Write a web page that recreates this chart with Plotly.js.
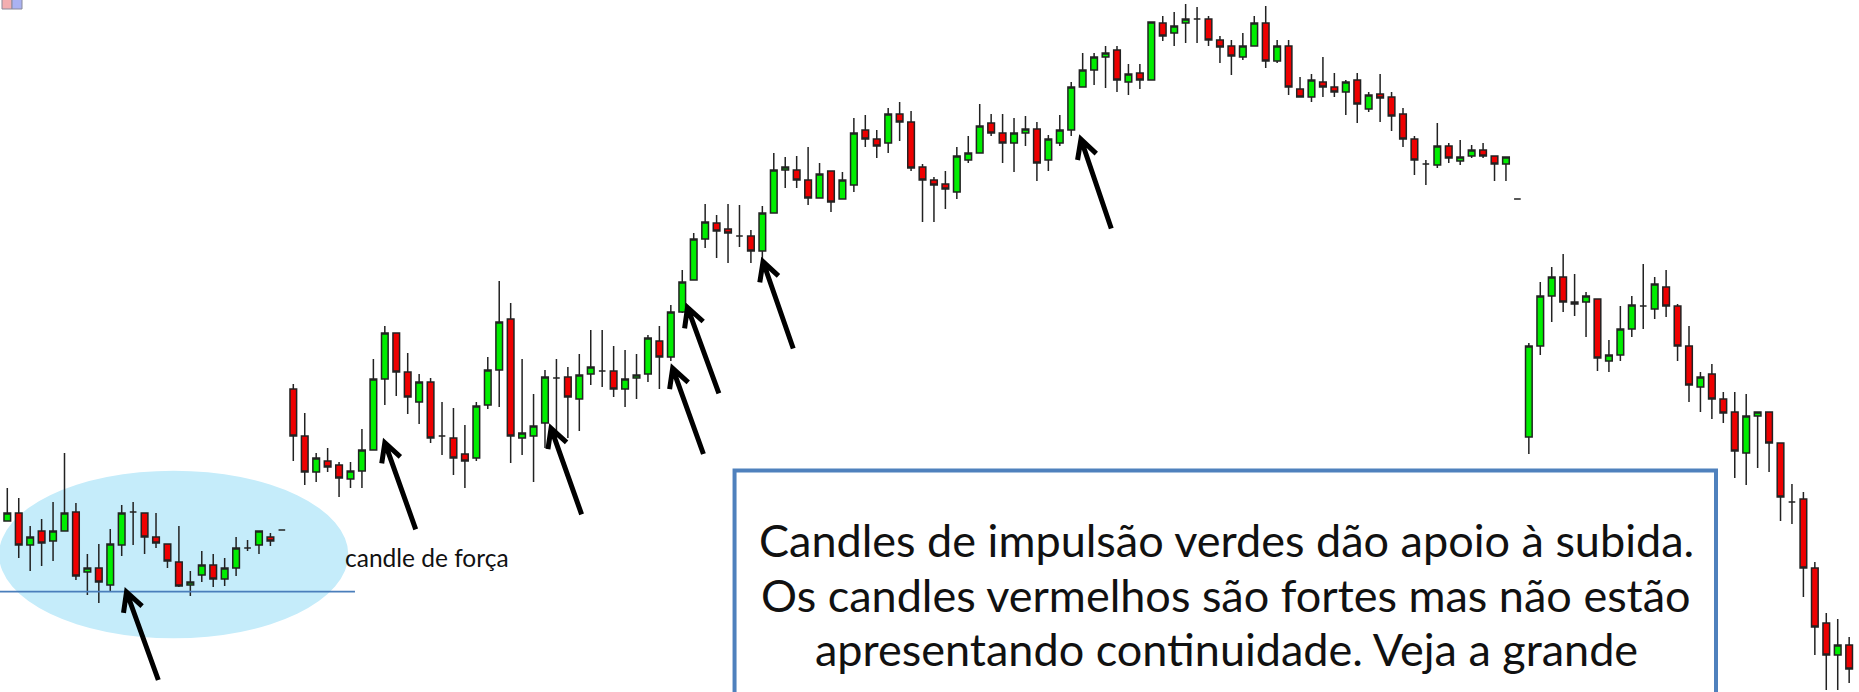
<!DOCTYPE html>
<html><head><meta charset="utf-8">
<script src="https://cdn.plot.ly/plotly-3.0.1.min.js"></script>
<style>html,body{margin:0;padding:0;background:#fff;overflow:hidden}#chart{width:1859px;height:692px}</style>
</head><body><div id="chart"></div>
<script>
// Candle values (price units)
const open = [171,179,147,161,151,161,180,120,124,107,147,180,179,155,148,130,107,117,127,113,124,144,147,155,162,
 303,256,220,231,227,213,221,242,313,359,320,290,310,256,254,238,234,287,322,373,254,256,269,314,315,293,318,321,321,303,314,318,351,335,
 380,412,453,469,463,456,456,441,479,522,522,512,494,521,493,507,562,553,549,578,570,525,512,508,500,532,539,569,559,549,559,563,532,549,562,605,622,635,642,610,619,612,
 669,659,669,673,673,652,646,635,646,669,631,646,603,595,610,605,600,612,583,598,595,578,553,528,527,546,531,536,542,536,528,493,
 255,346,396,415,388,390,393,331,337,363,386,383,405,386,346,305,318,293,280,239,276,280,249,190,193,124,69,37,47];
const high = [204,194,166,173,190,239,189,138,148,163,187,190,179,179,148,166,121,141,138,134,155,152,161,159,162,
 308,279,239,244,230,230,263,333,366,359,339,318,314,290,284,267,290,335,411,389,333,298,322,333,325,338,362,362,346,342,338,357,366,387,
 422,459,488,477,488,487,462,486,539,535,536,545,529,521,520,574,577,562,584,590,581,528,515,521,545,556,588,578,578,574,576,570,557,577,610,639,639,646,646,628,628,670,
 676,680,688,685,676,656,652,659,676,686,652,652,615,618,635,619,612,619,600,618,600,584,556,532,569,549,552,547,549,536,535,493,
 349,410,425,438,418,400,393,352,386,396,428,415,422,388,366,320,328,300,300,298,280,280,249,208,200,130,79,73,55];
const low = [171,134,121,126,131,161,112,97,89,100,136,147,138,144,124,105,96,110,105,106,116,141,138,146,162,
 231,207,210,220,195,204,204,242,287,296,278,268,249,237,217,204,231,283,285,229,237,210,244,254,254,261,307,305,295,285,293,310,303,331,
 379,412,444,434,429,445,429,432,479,504,504,487,494,480,493,500,545,534,539,551,521,470,470,483,493,529,539,556,529,520,546,511,521,546,556,605,607,604,600,597,603,612,
 651,646,649,649,646,629,617,632,646,624,629,597,595,590,595,595,577,569,580,570,561,545,517,507,524,529,527,534,534,511,511,493,
 238,337,370,380,376,355,321,320,331,355,363,373,375,331,290,280,273,269,214,207,224,220,171,168,95,37,2,2,9];
const close = [179,147,155,149,161,179,116,124,110,148,179,180,155,149,131,106,110,127,113,124,144,144,161,151,162,
 256,220,234,225,214,221,242,313,359,320,295,310,254,256,234,231,286,322,370,256,259,266,315,314,295,317,325,321,303,313,317,354,335,380,
 410,453,470,461,459,456,441,479,522,525,512,494,518,490,512,559,553,546,578,570,524,512,507,503,536,539,566,559,549,559,563,529,553,562,605,622,635,639,612,618,612,670,
 656,666,673,673,652,645,636,646,669,631,646,605,595,612,605,600,610,588,597,594,576,553,532,528,546,534,535,542,536,528,535,493,
 346,396,415,390,390,396,334,337,363,387,386,408,386,346,307,315,293,279,241,276,280,249,195,190,124,65,37,47,23];
const bars = open.map((_, k) => k + 1);

const boxLines = [
  'Candles de impulsão verdes dão apoio à subida.',
  'Os candles vermelhos são fortes mas não estão',
  'apresentando continuidade. Veja a grande'
];
const forceLabel = 'candle de força';

// layout helpers
const X_RANGE = [0.362, 162.86];
const Y_RANGE = [0, 692];
const PXX = 1859 / (X_RANGE[1] - X_RANGE[0]);
const arrows = [
  {tail:[14.2,12],   tip:[11.42,100]},
  {tail:[36.7,162.7],tip:[34.0,249.3]},
  {tail:[51.2,177.7],tip:[48.53,263.7]},
  {tail:[61.85,238], tip:[59.16,323.7]},
  {tail:[63.2,298.7],tip:[60.46,384.5]},
  {tail:[69.7,343.5],tip:[67.06,430.3]},
  {tail:[97.5,463.5],tip:[94.85,552.7]}
];
const ARM = 21, ANG = 0.49;
function arrowPath(a){
  const tx=a.tip[0]*PXX, ty=-a.tip[1], sx=a.tail[0]*PXX, sy=-a.tail[1];
  const dx=sx-tx, dy=sy-ty, L=Math.hypot(dx,dy), ux=dx/L, uy=dy/L;
  const arm=(g)=>{const c=Math.cos(g), s=Math.sin(g); return [tx+ARM*(ux*c-uy*s), ty+ARM*(ux*s+uy*c)];};
  const a1=arm(ANG), a2=arm(-ANG);
  const f=(x,y)=>(x/PXX).toFixed(3)+','+(-y).toFixed(2);
  return 'M'+f(sx,sy)+'L'+f(tx,ty)+'M'+f(a1[0],a1[1])+'L'+f(tx,ty)+'L'+f(a2[0],a2[1]);
}

const shapes = [
  {type:'circle', xref:'x', yref:'y', x0:0.275, x1:30.81, y0:53.7, y1:221.3,
   fillcolor:'rgb(197,236,250)', line:{width:0}, layer:'below'},
  {type:'line', xref:'x', yref:'y', x0:0.362, x1:31.39, y0:100.3, y1:100.3,
   line:{color:'#4a7ebb', width:1.8}, layer:'above'},
  {type:'rect', xref:'x', yref:'y', x0:64.57, x1:150.36, y0:-60, y1:221.5,
   fillcolor:'#ffffff', line:{color:'#4f81bd', width:4}, layer:'above'},
  // tiny icon top-left
  {type:'rect', xref:'paper', yref:'paper', x0:2/1859, x1:12/1859, y0:1-9/692, y1:1.01,
   fillcolor:'#f3aeb0', line:{color:'#8a8a9a', width:1}},
  {type:'rect', xref:'paper', yref:'paper', x0:12/1859, x1:22/1859, y0:1-9/692, y1:1.01,
   fillcolor:'#aab2f2', line:{color:'#8a8a9a', width:1}}
];
arrows.forEach(a => shapes.push({type:'path', xref:'x', yref:'y', path:arrowPath(a),
  line:{color:'#000', width:5}, layer:'above'}));

const textY = [152, 97.5, 43];
const annotations = boxLines.map((t,i)=>({
  text:t, xref:'x', yref:'y', x:107.53, y:textY[i], xanchor:'center', yanchor:'middle',
  showarrow:false, font:{family:'Lato, "Open Sans", sans-serif', size:45, color:'#111'}
}));
annotations.push({text:forceLabel, xref:'x', yref:'y', x:30.35, y:134.5, xanchor:'left', yanchor:'middle',
  showarrow:false, font:{family:'Lato, "Open Sans", sans-serif', size:24.5, color:'#111'}});

const trace = {
  type:'candlestick', x:bars, open:open, high:high, low:low, close:close,
  increasing:{fillcolor:'#00ee00', line:{color:'#222', width:1.5}},
  decreasing:{fillcolor:'#ee0000', line:{color:'#222', width:1.5}},
  whiskerwidth:0, hoverinfo:'skip'
};

const layout = {
  width:1859, height:692, margin:{l:0,r:0,t:0,b:0,pad:0},
  paper_bgcolor:'#ffffff', plot_bgcolor:'#ffffff', showlegend:false,
  boxgap:0.42, boxgroupgap:0,
  xaxis:{range:X_RANGE, visible:false, showgrid:false, zeroline:false, rangeslider:{visible:false}, fixedrange:true},
  yaxis:{range:Y_RANGE, visible:false, showgrid:false, zeroline:false, fixedrange:true},
  shapes:shapes, annotations:annotations
};
Plotly.newPlot('chart', [trace], layout, {staticPlot:true, displayModeBar:false});
</script>
</body></html>
